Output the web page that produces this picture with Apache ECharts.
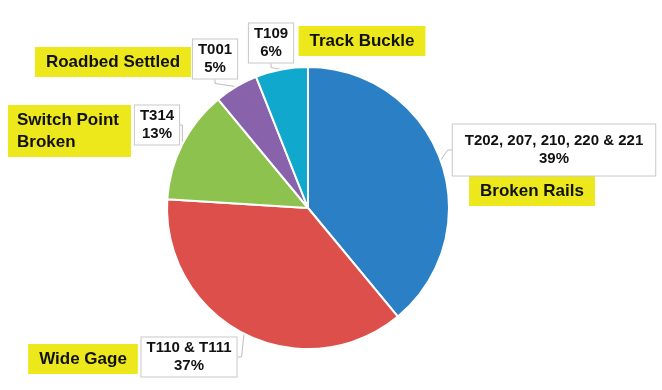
<!DOCTYPE html>
<html>
<head>
<meta charset="utf-8">
<script src="https://cdn.jsdelivr.net/npm/echarts@6/dist/echarts.min.js"></script>
<style>html,body{margin:0;padding:0;background:#fff;}#c{width:662px;height:390px;}</style>
</head>
<body>
<div id="c"></div>
<script>
const categories = ['Broken Rails', 'Wide Gage', 'Switch Point\nBroken', 'Roadbed Settled', 'Track Buckle'];
const codes = ['T202, 207, 210, 220 & 221', 'T110 & T111', 'T314', 'T001', 'T109'];
const percents = [39, 37, 13, 5, 6];
const colors = ['#2a7fc5', '#dd4f4a', '#8dc24f', '#8863ab', '#10a8cc'];

// label box placements (layout only)
const codeBoxPos = [[554, 150], [189, 357], [157, 125], [215, 59], [271, 43]];
const nameBoxPos = [[532, 191], [83, 359], [8, 131], [113, 62], [362, 41]];

const font = '"Liberation Sans", Arial, sans-serif';

const chart = echarts.init(document.getElementById('c'), null, {renderer: 'canvas'});

const pieData = categories.map((n, i) => {
  const d = {name: n, value: percents[i], itemStyle: {color: colors[i]}};
  if (i === 0) d.label = {padding: [8, 12, 7, 12]};
  return d;
});
const nameData = categories.map((n, i) => {
  const d = {name: n, value: percents[i]};
  if (n.indexOf('\n') >= 0) {
    d.label = {align: 'left', lineHeight: 22, padding: [4, 12, 4, 9]};
  }
  return d;
});

chart.setOption({
  animation: false,
  backgroundColor: '#fff',
  series: [
    {
      type: 'pie',
      center: [308, 208],
      radius: 141,
      startAngle: 90,
      clockwise: true,
      avoidLabelOverlap: false,
      silent: true,
      z: 4,
      itemStyle: {borderColor: '#fff', borderWidth: 2},
      data: pieData,
      label: {
        show: true,
        position: 'outside',
        formatter: p => codes[p.dataIndex] + '\n' + p.value + '%',
        fontFamily: font,
        fontWeight: 'bold',
        fontSize: 15,
        lineHeight: 18,
        color: '#111',
        align: 'center',
        backgroundColor: '#fff',
        borderColor: '#c8c8c8',
        borderWidth: 1,
        padding: [2, 5, 1, 5]
      },
      labelLine: {show: true, length: 8, length2: 4, lineStyle: {color: '#bdbdbd', width: 1}},
      labelLayout: p => ({
        x: codeBoxPos[p.dataIndex][0],
        y: codeBoxPos[p.dataIndex][1],
        align: 'center',
        verticalAlign: 'middle'
      })
    },
    {
      type: 'pie',
      center: [308, 208],
      radius: 141,
      startAngle: 90,
      clockwise: true,
      avoidLabelOverlap: false,
      silent: true,
      z: 3,
      itemStyle: {color: 'rgba(0,0,0,0)', borderWidth: 0},
      data: nameData,
      label: {
        show: true,
        position: 'outside',
        formatter: '{b}',
        fontFamily: font,
        fontWeight: 'bold',
        fontSize: 17,
        lineHeight: 21,
        color: '#111',
        backgroundColor: '#ece81c',
        padding: [5, 11, 4, 11]
      },
      labelLine: {show: false},
      labelLayout: p => {
        const isLeft = categories[p.dataIndex].indexOf('\n') >= 0;
        return {
          x: nameBoxPos[p.dataIndex][0],
          y: nameBoxPos[p.dataIndex][1],
          align: isLeft ? 'left' : 'center',
          verticalAlign: 'middle'
        };
      }
    }
  ]
});
</script>
</body>
</html>
